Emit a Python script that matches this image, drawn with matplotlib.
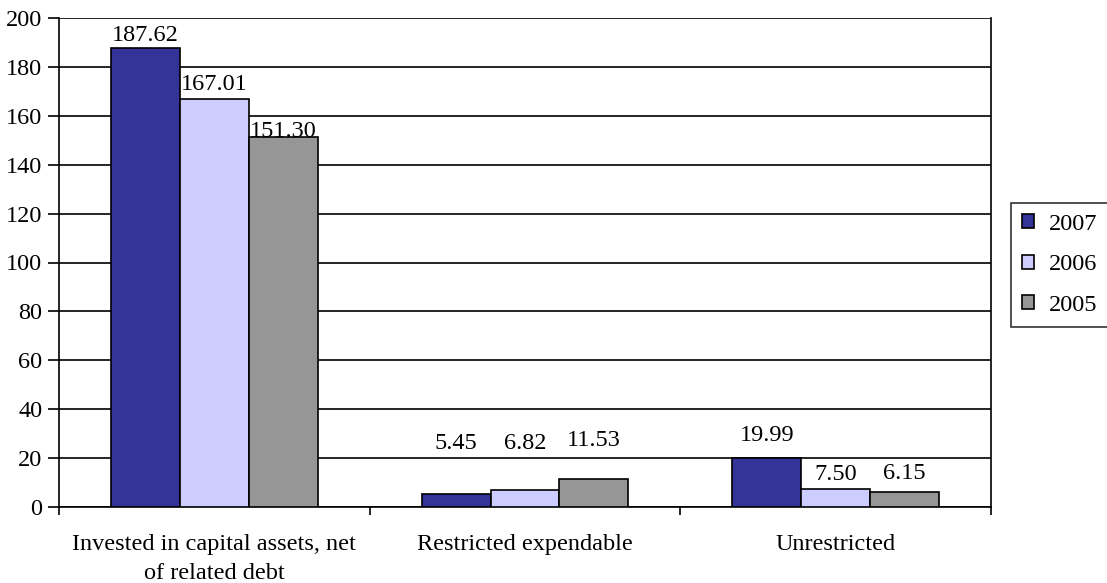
import matplotlib
matplotlib.use("Agg")
import matplotlib.pyplot as plt
import numpy as np

categories = ["Invested in capital assets, net\nof related debt", "Restricted expendable", "Unrestricted"]
years = ["2007", "2006", "2005"]
v2007 = [187.62, 5.45, 19.99]
v2006 = [167.01, 6.82, 7.50]
v2005 = [151.30, 11.53, 6.15]
label_y = [[192.7, 25.8, 29.1], [173.0, 25.8, 13.1], [153.4, 27.4, 13.9]]
colors = ["#333399", "#CCCCFF", "#969696"]

plt.rcParams['font.family'] = ['Liberation Serif', 'DejaVu Serif']
fs = 17.5

fig = plt.figure(figsize=(11.07, 5.83), dpi=100)
W, H = 1107, 583
left, right, top, bottom = 59, 991, 18, 507
ax = fig.add_axes([left / W, 1 - bottom / H, (right - left) / W, (bottom - top) / H])

series = [v2007, v2006, v2005]
n = len(categories)
x = np.arange(n)
bw = 0.222
for i, (vals, c, yr) in enumerate(zip(series, colors, years)):
    xs = x + (i - 1) * bw
    ax.bar(xs, vals, bw, color=c, edgecolor="black", linewidth=1.2, label=yr, zorder=3)
    for xi, v, ly in zip(xs, vals, label_y[i]):
        ax.text(xi, ly, f"{v:.2f}", ha="center", va="center", fontsize=fs, zorder=4)

ax.set_xlim(-0.5, n - 0.5)
ax.set_ylim(0, 200)
ax.set_yticks(np.arange(0, 201, 20))
ax.yaxis.grid(True, color="black", linewidth=1.2, zorder=0)
ax.set_axisbelow(True)
ax.set_xticks(np.arange(-0.5, n, 1.0))
ax.set_xticklabels([])
ax.set_xticks(x, minor=True)
ax.set_xticklabels(categories, minor=True, fontsize=fs, linespacing=1.5)
ax.tick_params(axis="x", which="minor", length=0, pad=19.5)
ax.tick_params(axis="x", which="major", length=6, width=1.2, direction="out")
ax.tick_params(axis="y", length=8, width=1.2, direction="out", labelsize=fs, pad=4)
for s in ["left", "bottom", "right"]:
    ax.spines[s].set_linewidth(1.2)
ax.spines["top"].set_visible(False)

handles, labs = ax.get_legend_handles_labels()
leg = fig.legend(handles, labs, loc="upper left", bbox_to_anchor=(1011 / W, 1 - 203 / H),
                 fontsize=fs, frameon=True, fancybox=False, edgecolor="black",
                 handlelength=0.5, handleheight=0.5, handletextpad=0.6,
                 labelspacing=0.8, borderpad=0.45, borderaxespad=0)
leg.get_frame().set_linewidth(1.2)

fig.savefig("out.png", dpi=100)
